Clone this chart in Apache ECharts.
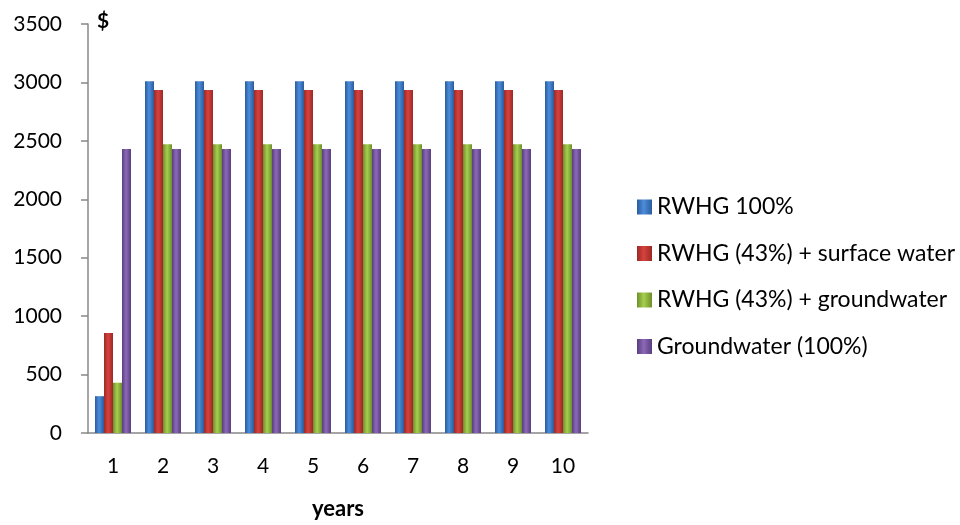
<!DOCTYPE html>
<html>
<head>
<meta charset="utf-8">
<script src="https://cdn.jsdelivr.net/npm/echarts@6/dist/echarts.min.js"></script>
<style>html,body{margin:0;padding:0;background:#fff;}#c{width:960px;height:525px;}</style>
</head>
<body>
<div id="c"></div>
<script>
const years = ['1','2','3','4','5','6','7','8','9','10'];
const seriesNames = ['RWHG 100%', 'RWHG (43%) + surface water', 'RWHG (43%) + groundwater', 'Groundwater (100%)'];
const rwhg100 = [315, 3010, 3010, 3010, 3010, 3010, 3010, 3010, 3010, 3010];
const rwhgSurface = [855, 2935, 2935, 2935, 2935, 2935, 2935, 2935, 2935, 2935];
const rwhgGround = [430, 2470, 2470, 2470, 2470, 2470, 2470, 2470, 2470, 2470];
const groundwater = [2430, 2430, 2430, 2430, 2430, 2430, 2430, 2430, 2430, 2430];
const yTicks = {min: 0, max: 3500, interval: 500};

const palettes = [
  ['#2a5c9c', '#4c8ddb', '#2a5c9c'],
  ['#9a2925', '#d8423d', '#9a2925'],
  ['#6d8e2c', '#a6cf4e', '#6d8e2c'],
  ['#583e7e', '#8d69b8', '#583e7e']
];
function grad(p) {
  return new echarts.graphic.LinearGradient(0, 0, 1, 0, [
    {offset: 0, color: p[0]}, {offset: 0.45, color: p[1]}, {offset: 1, color: p[2]}
  ]);
}
const dataSets = [rwhg100, rwhgSurface, rwhgGround, groundwater];
const font = 'Lato, "Open Sans", sans-serif';

const chart = echarts.init(document.getElementById('c'));
chart.setOption({
  animation: false,
  textStyle: {fontFamily: font},
  grid: {left: 88, right: 372, top: 24, bottom: 89},
  legend: {
    orient: 'vertical', left: 632, top: 190, itemGap: 22.5,
    itemWidth: 15, itemHeight: 15, icon: 'rect', itemTextGap: 7,
    textStyle: {fontSize: 23, lineHeight: 24, color: '#000', fontFamily: font},
    data: seriesNames
  },
  xAxis: {
    type: 'category', data: years,
    name: 'years', nameLocation: 'middle', nameGap: 65,
    nameTextStyle: {fontSize: 22, fontWeight: 'bold', color: '#000'},
    axisLine: {lineStyle: {color: '#888', width: 1.5}},
    axisTick: {length: 7, lineStyle: {color: '#888', width: 1.5}},
    axisLabel: {fontSize: 21, color: '#000', margin: 23}
  },
  yAxis: {
    type: 'value', min: yTicks.min, max: yTicks.max, interval: yTicks.interval,
    name: '$', nameLocation: 'end', nameGap: -8,
    nameTextStyle: {fontSize: 21, fontWeight: 'bold', color: '#000', align: 'left', padding: [0, 0, 0, 9]},
    axisLine: {show: true, lineStyle: {color: '#888', width: 1.5}},
    axisTick: {show: true, length: 7, lineStyle: {color: '#888', width: 1.5}},
    axisLabel: {fontSize: 21, color: '#000', margin: 26, formatter: v => String(v)},
    splitLine: {show: false}
  },
  series: dataSets.map((d, i) => ({
    name: seriesNames[i], type: 'bar', data: d,
    barWidth: 9, barGap: '0%',
    itemStyle: {color: grad(palettes[i])}
  }))
});
</script>
</body>
</html>
